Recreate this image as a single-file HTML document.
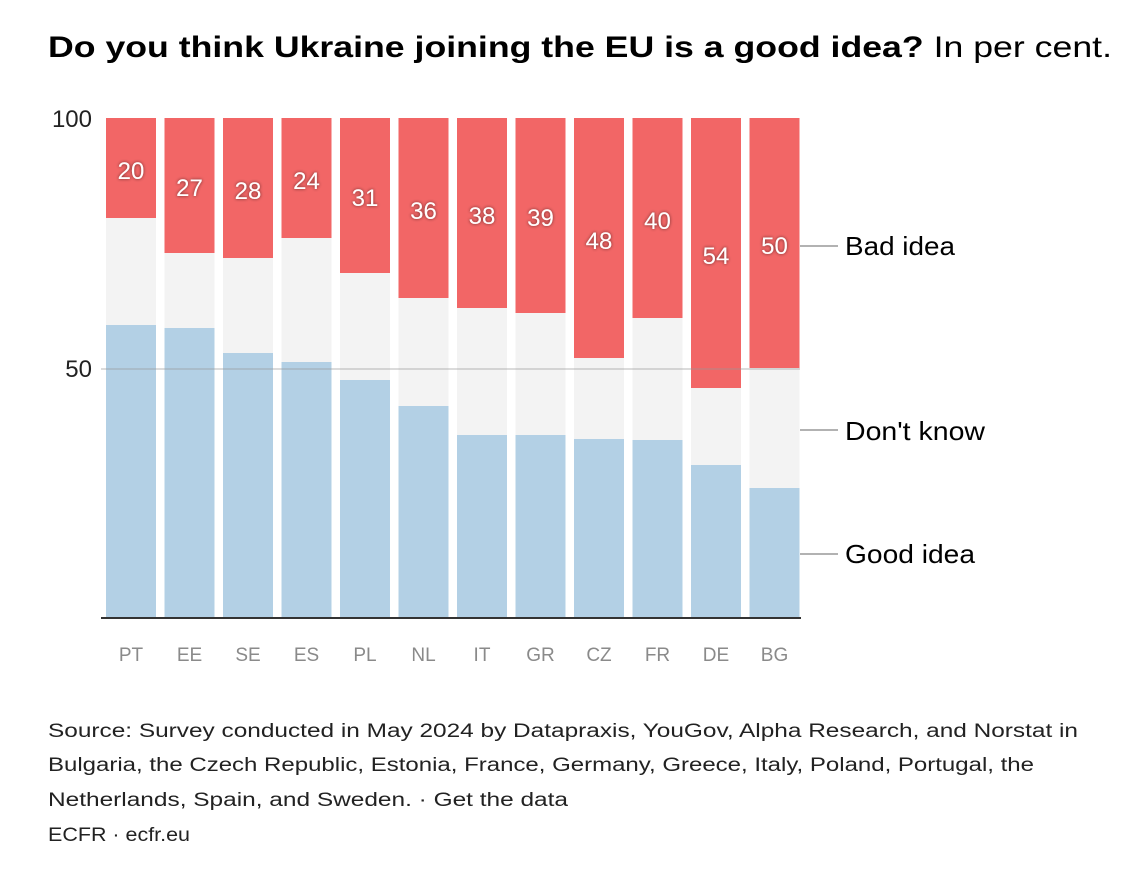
<!DOCTYPE html>
<html><head><meta charset="utf-8"><style>
html,body{margin:0;padding:0;background:#fff;}
svg{display:block;font-family:"Liberation Sans",sans-serif;}
</style></head><body>
<svg width="1134" height="873" viewBox="0 0 1134 873" xmlns="http://www.w3.org/2000/svg">
<defs><filter id="sh" x="-30%" y="-30%" width="160%" height="160%"><feDropShadow dx="0" dy="0" stdDeviation="1.5" flood-color="#000" flood-opacity="0.6"/></filter></defs>
<text x="48" y="57" font-size="30" fill="#000" textLength="1064" lengthAdjust="spacingAndGlyphs"><tspan font-weight="bold">Do you think Ukraine joining the EU is a good idea?</tspan> In per cent.</text>
<g>
<rect x="106" y="118" width="50" height="500" fill="#f3f3f3"/><rect x="106" y="325" width="50" height="293" fill="#b3d0e5"/><rect x="106" y="118" width="50" height="100" fill="#f26666"/>
<rect x="164.5" y="118" width="50" height="500" fill="#f3f3f3"/><rect x="164.5" y="328" width="50" height="290" fill="#b3d0e5"/><rect x="164.5" y="118" width="50" height="135" fill="#f26666"/>
<rect x="223" y="118" width="50" height="500" fill="#f3f3f3"/><rect x="223" y="353" width="50" height="265" fill="#b3d0e5"/><rect x="223" y="118" width="50" height="140" fill="#f26666"/>
<rect x="281.5" y="118" width="50" height="500" fill="#f3f3f3"/><rect x="281.5" y="362" width="50" height="256" fill="#b3d0e5"/><rect x="281.5" y="118" width="50" height="120" fill="#f26666"/>
<rect x="340" y="118" width="50" height="500" fill="#f3f3f3"/><rect x="340" y="380" width="50" height="238" fill="#b3d0e5"/><rect x="340" y="118" width="50" height="155" fill="#f26666"/>
<rect x="398.5" y="118" width="50" height="500" fill="#f3f3f3"/><rect x="398.5" y="406" width="50" height="212" fill="#b3d0e5"/><rect x="398.5" y="118" width="50" height="180" fill="#f26666"/>
<rect x="457" y="118" width="50" height="500" fill="#f3f3f3"/><rect x="457" y="435" width="50" height="183" fill="#b3d0e5"/><rect x="457" y="118" width="50" height="190" fill="#f26666"/>
<rect x="515.5" y="118" width="50" height="500" fill="#f3f3f3"/><rect x="515.5" y="435" width="50" height="183" fill="#b3d0e5"/><rect x="515.5" y="118" width="50" height="195" fill="#f26666"/>
<rect x="574" y="118" width="50" height="500" fill="#f3f3f3"/><rect x="574" y="439" width="50" height="179" fill="#b3d0e5"/><rect x="574" y="118" width="50" height="240" fill="#f26666"/>
<rect x="632.5" y="118" width="50" height="500" fill="#f3f3f3"/><rect x="632.5" y="440" width="50" height="178" fill="#b3d0e5"/><rect x="632.5" y="118" width="50" height="200" fill="#f26666"/>
<rect x="691" y="118" width="50" height="500" fill="#f3f3f3"/><rect x="691" y="465" width="50" height="153" fill="#b3d0e5"/><rect x="691" y="118" width="50" height="270" fill="#f26666"/>
<rect x="749.5" y="118" width="50" height="500" fill="#f3f3f3"/><rect x="749.5" y="488" width="50" height="130" fill="#b3d0e5"/><rect x="749.5" y="118" width="50" height="250" fill="#f26666"/>
</g>
<g font-size="24" fill="#fff" text-anchor="middle" filter="url(#sh)">
<text x="131" y="179">20</text>
<text x="189.5" y="196">27</text>
<text x="248" y="199">28</text>
<text x="306.5" y="189">24</text>
<text x="365" y="206">31</text>
<text x="423.5" y="219">36</text>
<text x="482" y="224">38</text>
<text x="540.5" y="226">39</text>
<text x="599" y="249">48</text>
<text x="657.5" y="229">40</text>
<text x="716" y="264">54</text>
<text x="774.5" y="254">50</text>
</g>
<g font-size="19" fill="#8a8a8a" text-anchor="middle">
<text x="131" y="661">PT</text><text x="189.5" y="661">EE</text><text x="248" y="661">SE</text><text x="306.5" y="661">ES</text>
<text x="365" y="661">PL</text><text x="423.5" y="661">NL</text><text x="482" y="661">IT</text><text x="540.5" y="661">GR</text>
<text x="599" y="661">CZ</text><text x="657.5" y="661">FR</text><text x="716" y="661">DE</text><text x="774.5" y="661">BG</text>
</g>
<line x1="101" y1="369" x2="800" y2="369" stroke="#999" stroke-opacity="0.35" stroke-width="2"/>
<line x1="101" y1="618" x2="801" y2="618" stroke="#333" stroke-width="2"/>
<text x="92" y="127" font-size="24" text-anchor="end" fill="#222">100</text>
<text x="92" y="377" font-size="24" text-anchor="end" fill="#222">50</text>
<g stroke="#999" stroke-width="1.5">
<line x1="800" y1="246" x2="838" y2="246"/>
<line x1="800" y1="430" x2="838" y2="430"/>
<line x1="800" y1="554" x2="838" y2="554"/>
</g>
<g font-size="26" fill="#000">
<text x="845" y="255" textLength="110" lengthAdjust="spacingAndGlyphs">Bad idea</text>
<text x="845" y="440" textLength="140" lengthAdjust="spacingAndGlyphs">Don't know</text>
<text x="845" y="563" textLength="130" lengthAdjust="spacingAndGlyphs">Good idea</text>
</g>
<g font-size="19" fill="#222">
<text x="48" y="737" textLength="1030" lengthAdjust="spacingAndGlyphs">Source: Survey conducted in May 2024 by Datapraxis, YouGov, Alpha Research, and Norstat in</text>
<text x="48" y="771" textLength="986" lengthAdjust="spacingAndGlyphs">Bulgaria, the Czech Republic, Estonia, France, Germany, Greece, Italy, Poland, Portugal, the</text>
<text x="48" y="806" textLength="520" lengthAdjust="spacingAndGlyphs">Netherlands, Spain, and Sweden. · Get the data</text>
<text x="48" y="841" textLength="142" lengthAdjust="spacingAndGlyphs">ECFR · ecfr.eu</text>
</g>
</svg>
</body></html>
